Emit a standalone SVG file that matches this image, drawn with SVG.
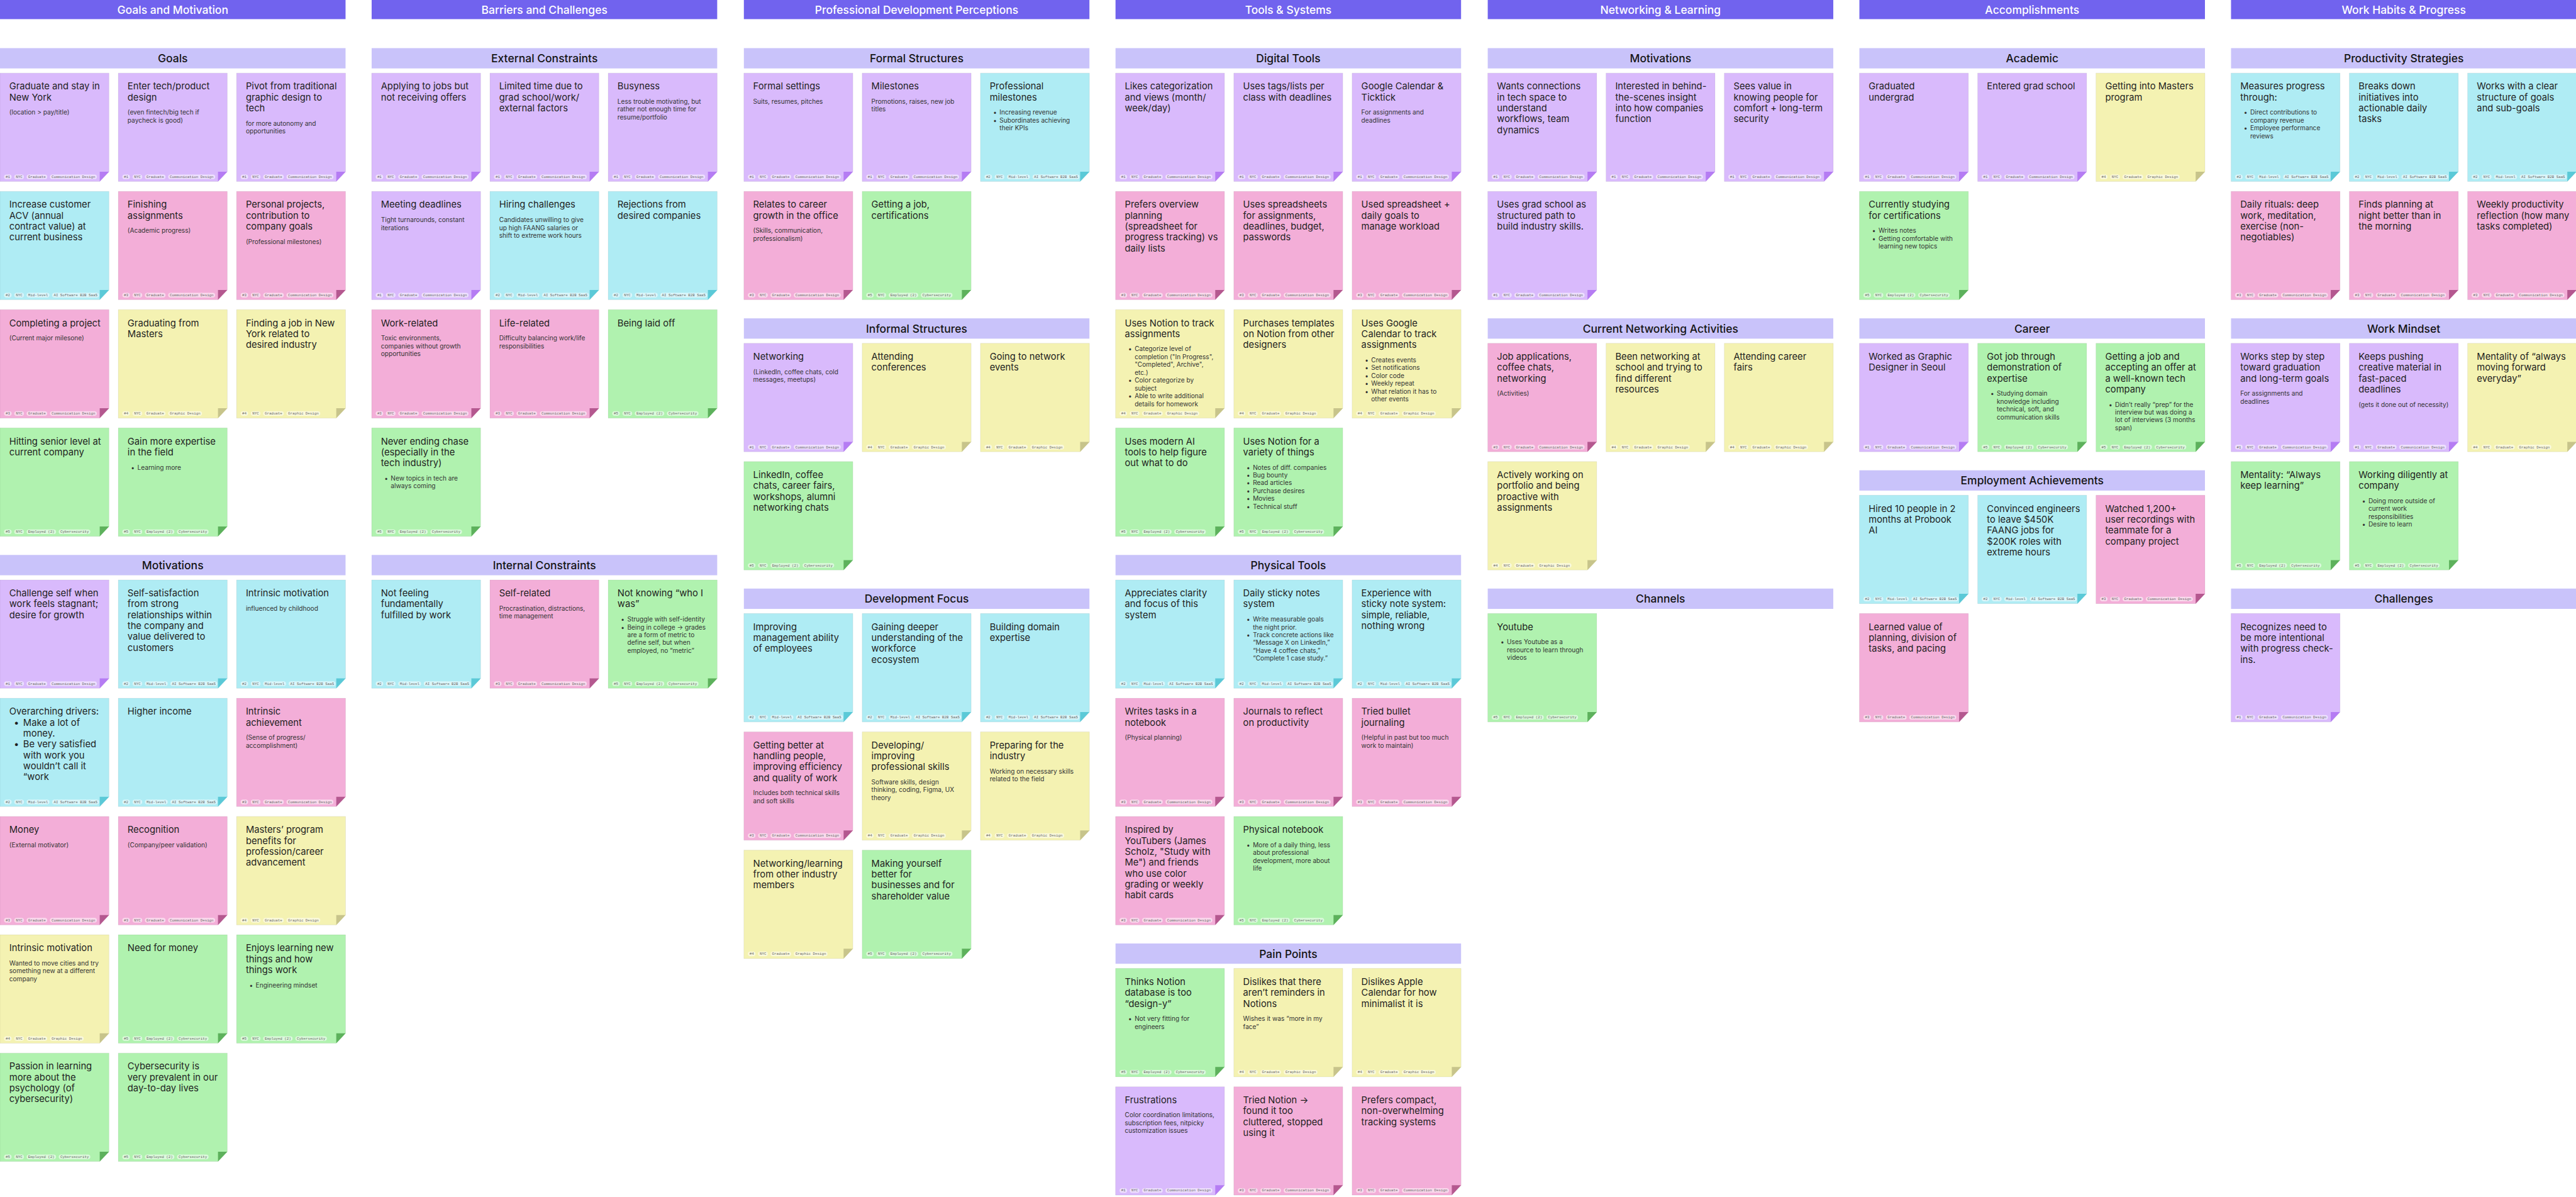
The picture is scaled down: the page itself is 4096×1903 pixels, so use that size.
<svg xmlns="http://www.w3.org/2000/svg" xmlns:xlink="http://www.w3.org/1999/xlink" width="4096" height="1903" viewBox="0 0 4096 1903">
<style>
.hb{fill:#7163EE}
.ht{font:500 19px Inter,'Liberation Sans',sans-serif;fill:#fff;text-anchor:middle}
.sb{fill:#C9C3FA}
.st{font:500 19px Inter,'Liberation Sans',sans-serif;fill:#151515;text-anchor:middle}
.b{stroke:#000;stroke-opacity:.07;stroke-width:1}
.t{font:16px Inter,'Liberation Sans',sans-serif;fill:#1e1e1e}
.s{font:11px Inter,'Liberation Sans',sans-serif;fill:#333}
.pl{fill:#fff;fill-opacity:.55}
.tg{font:6.3px 'Liberation Mono',monospace;fill:#666;text-anchor:middle}
.p1 .b{fill:#D9BAFC}.p1 .f{fill:#B57CF3}
.p2 .b{fill:#AFECF4}.p2 .f{fill:#5BC9D7}
.p3 .b{fill:#F3AED8}.p3 .f{fill:#B4588F}
.p4 .b{fill:#F4F2B2}.p4 .f{fill:#C7C48B}
.p5 .b{fill:#B0F2AF}.p5 .f{fill:#5DB15C}
</style>
<defs>
<path id="body" d="M0 0H188V170L172 187H0Z"/>
<path id="fold" d="M172 170H188L172 187Z"/>
<g id="tg1"><rect class="pl" x="7" y="175" width="13" height="8" rx="4"/><text class="tg" x="13.5" y="181">#1</text><rect class="pl" x="24.6" y="175" width="16.7" height="8" rx="4"/><text class="tg" x="33" y="181">NYC</text><rect class="pl" x="45.9" y="175" width="35.6" height="8" rx="4"/><text class="tg" x="63.7" y="181">Graduate</text><rect class="pl" x="86.1" y="175" width="81" height="8" rx="4"/><text class="tg" x="126.6" y="181">Communication Design</text></g>
<g id="tg2"><rect class="pl" x="7" y="175" width="13" height="8" rx="4"/><text class="tg" x="13.5" y="181">#2</text><rect class="pl" x="24.6" y="175" width="16.7" height="8" rx="4"/><text class="tg" x="33" y="181">NYC</text><rect class="pl" x="45.9" y="175" width="39.4" height="8" rx="4"/><text class="tg" x="65.6" y="181">Mid-level</text><rect class="pl" x="89.9" y="175" width="81" height="8" rx="4"/><text class="tg" x="130.4" y="181">AI Software B2B SaaS</text></g>
<g id="tg3"><rect class="pl" x="7" y="175" width="13" height="8" rx="4"/><text class="tg" x="13.5" y="181">#3</text><rect class="pl" x="24.6" y="175" width="16.7" height="8" rx="4"/><text class="tg" x="33" y="181">NYC</text><rect class="pl" x="45.9" y="175" width="35.6" height="8" rx="4"/><text class="tg" x="63.7" y="181">Graduate</text><rect class="pl" x="86.1" y="175" width="81" height="8" rx="4"/><text class="tg" x="126.6" y="181">Communication Design</text></g>
<g id="tg4"><rect class="pl" x="7" y="175" width="13" height="8" rx="4"/><text class="tg" x="13.5" y="181">#4</text><rect class="pl" x="24.6" y="175" width="16.7" height="8" rx="4"/><text class="tg" x="33" y="181">NYC</text><rect class="pl" x="45.9" y="175" width="35.6" height="8" rx="4"/><text class="tg" x="63.7" y="181">Graduate</text><rect class="pl" x="86.1" y="175" width="58.3" height="8" rx="4"/><text class="tg" x="115.25" y="181">Graphic Design</text></g>
<g id="tg5"><rect class="pl" x="7" y="175" width="13" height="8" rx="4"/><text class="tg" x="13.5" y="181">#5</text><rect class="pl" x="24.6" y="175" width="16.7" height="8" rx="4"/><text class="tg" x="33" y="181">NYC</text><rect class="pl" x="45.9" y="175" width="50.8" height="8" rx="4"/><text class="tg" x="71.3" y="181">Employed (2)</text><rect class="pl" x="101.3" y="175" width="54.5" height="8" rx="4"/><text class="tg" x="128.55" y="181">Cybersecurity</text></g>
</defs>
<rect width="4096" height="1903" fill="#fff"/>
<g transform="scale(0.9219)">
<g id="headers">
<rect class="hb" x="0" y="0" width="596" height="33"/><text class="ht" x="298" y="24">Goals and Motivation</text>
<rect class="hb" x="641" y="0" width="596" height="33"/><text class="ht" x="939" y="24">Barriers and Challenges</text>
<rect class="hb" x="1283" y="0" width="596" height="33"/><text class="ht" x="1581" y="24">Professional Development Perceptions</text>
<rect class="hb" x="1924" y="0" width="596" height="33"/><text class="ht" x="2222" y="24">Tools &amp; Systems</text>
<rect class="hb" x="2566" y="0" width="596" height="33"/><text class="ht" x="2864" y="24">Networking &amp; Learning</text>
<rect class="hb" x="3207" y="0" width="596" height="33"/><text class="ht" x="3505" y="24">Accomplishments</text>
<rect class="hb" x="3848" y="0" width="596" height="33"/><text class="ht" x="4146" y="24">Work Habits &amp; Progress</text>
</g>
<g id="sections">
<rect class="sb" x="0" y="83" width="596" height="35"/><text class="st" x="298" y="107.5">Goals</text>
<rect class="sb" x="0" y="957" width="596" height="35"/><text class="st" x="298" y="981.5">Motivations</text>
<rect class="sb" x="641" y="83" width="596" height="35"/><text class="st" x="939" y="107.5">External Constraints</text>
<rect class="sb" x="641" y="957" width="596" height="35"/><text class="st" x="939" y="981.5">Internal Constraints</text>
<rect class="sb" x="1283" y="83" width="596" height="35"/><text class="st" x="1581" y="107.5">Formal Structures</text>
<rect class="sb" x="1283" y="549" width="596" height="35"/><text class="st" x="1581" y="573.5">Informal Structures</text>
<rect class="sb" x="1283" y="1015" width="596" height="35"/><text class="st" x="1581" y="1039.5">Development Focus</text>
<rect class="sb" x="1924" y="83" width="596" height="35"/><text class="st" x="2222" y="107.5">Digital Tools</text>
<rect class="sb" x="1924" y="957" width="596" height="35"/><text class="st" x="2222" y="981.5">Physical Tools</text>
<rect class="sb" x="1924" y="1627" width="596" height="35"/><text class="st" x="2222" y="1651.5">Pain Points</text>
<rect class="sb" x="2566" y="83" width="596" height="35"/><text class="st" x="2864" y="107.5">Motivations</text>
<rect class="sb" x="2566" y="549" width="596" height="35"/><text class="st" x="2864" y="573.5">Current Networking Activities</text>
<rect class="sb" x="2566" y="1015" width="596" height="35"/><text class="st" x="2864" y="1039.5">Channels</text>
<rect class="sb" x="3207" y="83" width="596" height="35"/><text class="st" x="3505" y="107.5">Academic</text>
<rect class="sb" x="3207" y="549" width="596" height="35"/><text class="st" x="3505" y="573.5">Career</text>
<rect class="sb" x="3207" y="811" width="596" height="35"/><text class="st" x="3505" y="835.5">Employment Achievements</text>
<rect class="sb" x="3848" y="83" width="596" height="35"/><text class="st" x="4146" y="107.5">Productivity Strategies</text>
<rect class="sb" x="3848" y="549" width="596" height="35"/><text class="st" x="4146" y="573.5">Work Mindset</text>
<rect class="sb" x="3848" y="1015" width="596" height="35"/><text class="st" x="4146" y="1039.5">Challenges</text>
</g>
<g id="connectors"/>

<!-- Column 1 -->
<g id="goals-1" class="p1" transform="translate(0 126)"><use href="#body" class="b"/><use href="#fold" class="f"/><use href="#tg1"/><text class="t" x="16" y="28.5">Graduate and stay in<tspan x="16" dy="18.8">New York</tspan></text><text class="s" x="16" y="71.8">(location &gt; pay/title)</text></g>
<g id="goals-2" class="p1" transform="translate(204 126)"><use href="#body" class="b"/><use href="#fold" class="f"/><use href="#tg1"/><text class="t" x="16" y="28.5">Enter tech/product<tspan x="16" dy="18.8">design</tspan></text><text class="s" x="16" y="71.8">(even fintech/big tech if<tspan x="16" dy="13.5">paycheck is good)</tspan></text></g>
<g id="goals-3" class="p1" transform="translate(408 126)"><use href="#body" class="b"/><use href="#fold" class="f"/><use href="#tg1"/><text class="t" x="16" y="28.5">Pivot from traditional<tspan x="16" dy="18.8">graphic design to</tspan><tspan x="16" dy="18.8">tech</tspan></text><text class="s" x="16" y="90.6">for more autonomy and<tspan x="16" dy="13.5">opportunities</tspan></text></g>
<g id="goals-4" class="p2" transform="translate(0 330)"><use href="#body" class="b"/><use href="#fold" class="f"/><use href="#tg2"/><text class="t" x="16" y="28.5">Increase customer<tspan x="16" dy="18.8">ACV (annual</tspan><tspan x="16" dy="18.8">contract value) at</tspan><tspan x="16" dy="18.8">current business</tspan></text></g>
<g id="goals-5" class="p3" transform="translate(204 330)"><use href="#body" class="b"/><use href="#fold" class="f"/><use href="#tg3"/><text class="t" x="16" y="28.5">Finishing<tspan x="16" dy="18.8">assignments</tspan></text><text class="s" x="16" y="71.8">(Academic progress)</text></g>
<g id="goals-6" class="p3" transform="translate(408 330)"><use href="#body" class="b"/><use href="#fold" class="f"/><use href="#tg3"/><text class="t" x="16" y="28.5">Personal projects,<tspan x="16" dy="18.8">contribution to</tspan><tspan x="16" dy="18.8">company goals</tspan></text><text class="s" x="16" y="90.6">(Professional milestones)</text></g>
<g id="goals-7" class="p3" transform="translate(0 534)"><use href="#body" class="b"/><use href="#fold" class="f"/><use href="#tg3"/><text class="t" x="16" y="28.5">Completing a project</text><text class="s" x="16" y="53">(Current major milesone)</text></g>
<g id="goals-8" class="p4" transform="translate(204 534)"><use href="#body" class="b"/><use href="#fold" class="f"/><use href="#tg4"/><text class="t" x="16" y="28.5">Graduating from<tspan x="16" dy="18.8">Masters</tspan></text></g>
<g id="goals-9" class="p4" transform="translate(408 534)"><use href="#body" class="b"/><use href="#fold" class="f"/><use href="#tg4"/><text class="t" x="16" y="28.5">Finding a job in New<tspan x="16" dy="18.8">York related to</tspan><tspan x="16" dy="18.8">desired industry</tspan></text></g>
<g id="goals-10" class="p5" transform="translate(0 738)"><use href="#body" class="b"/><use href="#fold" class="f"/><use href="#tg5"/><text class="t" x="16" y="28.5">Hitting senior level at<tspan x="16" dy="18.8">current company</tspan></text></g>
<g id="goals-11" class="p5" transform="translate(204 738)"><use href="#body" class="b"/><use href="#fold" class="f"/><use href="#tg5"/><text class="t" x="16" y="28.5">Gain more expertise<tspan x="16" dy="18.8">in the field</tspan></text><text class="s" y="71.8"><tspan x="22">•</tspan><tspan x="33">Learning more</tspan></text></g>

<g id="mot-1" class="p1" transform="translate(0 1000)"><use href="#body" class="b"/><use href="#fold" class="f"/><use href="#tg1"/><text class="t" x="16" y="28.5">Challenge self when<tspan x="16" dy="18.8">work feels stagnant;</tspan><tspan x="16" dy="18.8">desire for growth</tspan></text></g>
<g id="mot-2" class="p2" transform="translate(204 1000)"><use href="#body" class="b"/><use href="#fold" class="f"/><use href="#tg2"/><text class="t" x="16" y="28.5">Self-satisfaction<tspan x="16" dy="18.8">from strong</tspan><tspan x="16" dy="18.8">relationships within</tspan><tspan x="16" dy="18.8">the company and</tspan><tspan x="16" dy="18.8">value delivered to</tspan><tspan x="16" dy="18.8">customers</tspan></text></g>
<g id="mot-3" class="p2" transform="translate(408 1000)"><use href="#body" class="b"/><use href="#fold" class="f"/><use href="#tg2"/><text class="t" x="16" y="28.5">Intrinsic motivation</text><text class="s" x="16" y="53">influenced by childhood</text></g>
<g id="mot-4" class="p2" transform="translate(0 1204)"><use href="#body" class="b"/><use href="#fold" class="f"/><use href="#tg2"/><text class="t" x="16" y="28.5">Overarching drivers:<tspan x="24" dy="18.8">•</tspan><tspan x="40">Make a lot of</tspan><tspan x="40" dy="18.8">money.</tspan><tspan x="24" dy="18.8">•</tspan><tspan x="40">Be very satisfied</tspan><tspan x="40" dy="18.8">with work you</tspan><tspan x="40" dy="18.8">wouldn’t call it</tspan><tspan x="40" dy="18.8">“work</tspan></text></g>
<g id="mot-5" class="p2" transform="translate(204 1204)"><use href="#body" class="b"/><use href="#fold" class="f"/><use href="#tg2"/><text class="t" x="16" y="28.5">Higher income</text></g>
<g id="mot-6" class="p3" transform="translate(408 1204)"><use href="#body" class="b"/><use href="#fold" class="f"/><use href="#tg3"/><text class="t" x="16" y="28.5">Intrinsic<tspan x="16" dy="18.8">achievement</tspan></text><text class="s" x="16" y="71.8">(Sense of progress/<tspan x="16" dy="13.5">accomplishment)</tspan></text></g>
<g id="mot-7" class="p3" transform="translate(0 1408)"><use href="#body" class="b"/><use href="#fold" class="f"/><use href="#tg3"/><text class="t" x="16" y="28.5">Money</text><text class="s" x="16" y="53">(External motivator)</text></g>
<g id="mot-8" class="p3" transform="translate(204 1408)"><use href="#body" class="b"/><use href="#fold" class="f"/><use href="#tg3"/><text class="t" x="16" y="28.5">Recognition</text><text class="s" x="16" y="53">(Company/peer validation)</text></g>
<g id="mot-9" class="p4" transform="translate(408 1408)"><use href="#body" class="b"/><use href="#fold" class="f"/><use href="#tg4"/><text class="t" x="16" y="28.5">Masters’ program<tspan x="16" dy="18.8">benefits for</tspan><tspan x="16" dy="18.8">profession/career</tspan><tspan x="16" dy="18.8">advancement</tspan></text></g>
<g id="mot-10" class="p4" transform="translate(0 1612)"><use href="#body" class="b"/><use href="#fold" class="f"/><use href="#tg4"/><text class="t" x="16" y="28.5">Intrinsic motivation</text><text class="s" x="16" y="53">Wanted to move cities and try<tspan x="16" dy="13.5">something new at a different</tspan><tspan x="16" dy="13.5">company</tspan></text></g>
<g id="mot-11" class="p5" transform="translate(204 1612)"><use href="#body" class="b"/><use href="#fold" class="f"/><use href="#tg5"/><text class="t" x="16" y="28.5">Need for money</text></g>
<g id="mot-12" class="p5" transform="translate(408 1612)"><use href="#body" class="b"/><use href="#fold" class="f"/><use href="#tg5"/><text class="t" x="16" y="28.5">Enjoys learning new<tspan x="16" dy="18.8">things and how</tspan><tspan x="16" dy="18.8">things work</tspan></text><text class="s" y="90.6"><tspan x="22">•</tspan><tspan x="33">Engineering mindset</tspan></text></g>
<g id="mot-13" class="p5" transform="translate(0 1816)"><use href="#body" class="b"/><use href="#fold" class="f"/><use href="#tg5"/><text class="t" x="16" y="28.5">Passion in learning<tspan x="16" dy="18.8">more about the</tspan><tspan x="16" dy="18.8">psychology (of</tspan><tspan x="16" dy="18.8">cybersecurity)</tspan></text></g>
<g id="mot-14" class="p5" transform="translate(204 1816)"><use href="#body" class="b"/><use href="#fold" class="f"/><use href="#tg5"/><text class="t" x="16" y="28.5">Cybersecurity is<tspan x="16" dy="18.8">very prevalent in our</tspan><tspan x="16" dy="18.8">day-to-day lives</tspan></text></g>

<!-- Column 2 -->
<g id="ext-1" class="p1" transform="translate(641 126)"><use href="#body" class="b"/><use href="#fold" class="f"/><use href="#tg1"/><text class="t" x="16" y="28.5">Applying to jobs but<tspan x="16" dy="18.8">not receiving offers</tspan></text></g>
<g id="ext-2" class="p1" transform="translate(845 126)"><use href="#body" class="b"/><use href="#fold" class="f"/><use href="#tg1"/><text class="t" x="16" y="28.5">Limited time due to<tspan x="16" dy="18.8">grad school/work/</tspan><tspan x="16" dy="18.8">external factors</tspan></text></g>
<g id="ext-3" class="p1" transform="translate(1049 126)"><use href="#body" class="b"/><use href="#fold" class="f"/><use href="#tg1"/><text class="t" x="16" y="28.5">Busyness</text><text class="s" x="16" y="53">Less trouble motivating, but<tspan x="16" dy="13.5">rather not enough time for</tspan><tspan x="16" dy="13.5">resume/portfolio</tspan></text></g>
<g id="ext-4" class="p1" transform="translate(641 330)"><use href="#body" class="b"/><use href="#fold" class="f"/><use href="#tg1"/><text class="t" x="16" y="28.5">Meeting deadlines</text><text class="s" x="16" y="53">Tight turnarounds, constant<tspan x="16" dy="13.5">iterations</tspan></text></g>
<g id="ext-5" class="p2" transform="translate(845 330)"><use href="#body" class="b"/><use href="#fold" class="f"/><use href="#tg2"/><text class="t" x="16" y="28.5">Hiring challenges</text><text class="s" x="16" y="53">Candidates unwilling to give<tspan x="16" dy="13.5">up high FAANG salaries or</tspan><tspan x="16" dy="13.5">shift to extreme work hours</tspan></text></g>
<g id="ext-6" class="p2" transform="translate(1049 330)"><use href="#body" class="b"/><use href="#fold" class="f"/><use href="#tg2"/><text class="t" x="16" y="28.5">Rejections from<tspan x="16" dy="18.8">desired companies</tspan></text></g>
<g id="ext-7" class="p3" transform="translate(641 534)"><use href="#body" class="b"/><use href="#fold" class="f"/><use href="#tg3"/><text class="t" x="16" y="28.5">Work-related</text><text class="s" x="16" y="53">Toxic environments,<tspan x="16" dy="13.5">companies without growth</tspan><tspan x="16" dy="13.5">opportunities</tspan></text></g>
<g id="ext-8" class="p3" transform="translate(845 534)"><use href="#body" class="b"/><use href="#fold" class="f"/><use href="#tg3"/><text class="t" x="16" y="28.5">Life-related</text><text class="s" x="16" y="53">Difficulty balancing work/life<tspan x="16" dy="13.5">responsibilities</tspan></text></g>
<g id="ext-9" class="p5" transform="translate(1049 534)"><use href="#body" class="b"/><use href="#fold" class="f"/><use href="#tg5"/><text class="t" x="16" y="28.5">Being laid off</text></g>
<g id="ext-10" class="p5" transform="translate(641 738)"><use href="#body" class="b"/><use href="#fold" class="f"/><use href="#tg5"/><text class="t" x="16" y="28.5">Never ending chase<tspan x="16" dy="18.8">(especially in the</tspan><tspan x="16" dy="18.8">tech industry)</tspan></text><text class="s" y="90.6"><tspan x="22">•</tspan><tspan x="33">New topics in tech are</tspan><tspan x="33" dy="13.5">always coming</tspan></text></g>

<g id="int-1" class="p2" transform="translate(641 1000)"><use href="#body" class="b"/><use href="#fold" class="f"/><use href="#tg2"/><text class="t" x="16" y="28.5">Not feeling<tspan x="16" dy="18.8">fundamentally</tspan><tspan x="16" dy="18.8">fulfilled by work</tspan></text></g>
<g id="int-2" class="p3" transform="translate(845 1000)"><use href="#body" class="b"/><use href="#fold" class="f"/><use href="#tg3"/><text class="t" x="16" y="28.5">Self-related</text><text class="s" x="16" y="53">Procrastination, distractions,<tspan x="16" dy="13.5">time management</tspan></text></g>
<g id="int-3" class="p5" transform="translate(1049 1000)"><use href="#body" class="b"/><use href="#fold" class="f"/><use href="#tg5"/><text class="t" x="16" y="28.5">Not knowing “who I<tspan x="16" dy="18.8">was”</tspan></text><text class="s" y="71.8"><tspan x="22">•</tspan><tspan x="33">Struggle with self-identity</tspan><tspan x="22" dy="13.5">•</tspan><tspan x="33">Being in college → grades</tspan><tspan x="33" dy="13.5">are a form of metric to</tspan><tspan x="33" dy="13.5">define self, but when</tspan><tspan x="33" dy="13.5">employed, no “metric”</tspan></text></g>

<!-- Column 3 -->
<g id="for-1" class="p1" transform="translate(1283 126)"><use href="#body" class="b"/><use href="#fold" class="f"/><use href="#tg1"/><text class="t" x="16" y="28.5">Formal settings</text><text class="s" x="16" y="53">Suits, resumes, pitches</text></g>
<g id="for-2" class="p1" transform="translate(1487 126)"><use href="#body" class="b"/><use href="#fold" class="f"/><use href="#tg1"/><text class="t" x="16" y="28.5">Milestones</text><text class="s" x="16" y="53">Promotions, raises, new job<tspan x="16" dy="13.5">titles</tspan></text></g>
<g id="for-3" class="p2" transform="translate(1691 126)"><use href="#body" class="b"/><use href="#fold" class="f"/><use href="#tg2"/><text class="t" x="16" y="28.5">Professional<tspan x="16" dy="18.8">milestones</tspan></text><text class="s" y="71.8"><tspan x="22">•</tspan><tspan x="33">Increasing revenue</tspan><tspan x="22" dy="13.5">•</tspan><tspan x="33">Subordinates achieving</tspan><tspan x="33" dy="13.5">their KPIs</tspan></text></g>
<g id="for-4" class="p3" transform="translate(1283 330)"><use href="#body" class="b"/><use href="#fold" class="f"/><use href="#tg3"/><text class="t" x="16" y="28.5">Relates to career<tspan x="16" dy="18.8">growth in the office</tspan></text><text class="s" x="16" y="71.8">(Skills, communication,<tspan x="16" dy="13.5">professionalism)</tspan></text></g>
<g id="for-5" class="p5" transform="translate(1487 330)"><use href="#body" class="b"/><use href="#fold" class="f"/><use href="#tg5"/><text class="t" x="16" y="28.5">Getting a job,<tspan x="16" dy="18.8">certifications</tspan></text></g>

<g id="inf-1" class="p1" transform="translate(1283 592)"><use href="#body" class="b"/><use href="#fold" class="f"/><use href="#tg1"/><text class="t" x="16" y="28.5">Networking</text><text class="s" x="16" y="53">(LinkedIn, coffee chats, cold<tspan x="16" dy="13.5">messages, meetups)</tspan></text></g>
<g id="inf-2" class="p4" transform="translate(1487 592)"><use href="#body" class="b"/><use href="#fold" class="f"/><use href="#tg4"/><text class="t" x="16" y="28.5">Attending<tspan x="16" dy="18.8">conferences</tspan></text></g>
<g id="inf-3" class="p4" transform="translate(1691 592)"><use href="#body" class="b"/><use href="#fold" class="f"/><use href="#tg4"/><text class="t" x="16" y="28.5">Going to network<tspan x="16" dy="18.8">events</tspan></text></g>
<g id="inf-4" class="p5" transform="translate(1283 796)"><use href="#body" class="b"/><use href="#fold" class="f"/><use href="#tg5"/><text class="t" x="16" y="28.5">LinkedIn, coffee<tspan x="16" dy="18.8">chats, career fairs,</tspan><tspan x="16" dy="18.8">workshops, alumni</tspan><tspan x="16" dy="18.8">networking chats</tspan></text></g>

<g id="dev-1" class="p2" transform="translate(1283 1058)"><use href="#body" class="b"/><use href="#fold" class="f"/><use href="#tg2"/><text class="t" x="16" y="28.5">Improving<tspan x="16" dy="18.8">management ability</tspan><tspan x="16" dy="18.8">of employees</tspan></text></g>
<g id="dev-2" class="p2" transform="translate(1487 1058)"><use href="#body" class="b"/><use href="#fold" class="f"/><use href="#tg2"/><text class="t" x="16" y="28.5">Gaining deeper<tspan x="16" dy="18.8">understanding of the</tspan><tspan x="16" dy="18.8">workforce</tspan><tspan x="16" dy="18.8">ecosystem</tspan></text></g>
<g id="dev-3" class="p2" transform="translate(1691 1058)"><use href="#body" class="b"/><use href="#fold" class="f"/><use href="#tg2"/><text class="t" x="16" y="28.5">Building domain<tspan x="16" dy="18.8">expertise</tspan></text></g>
<g id="dev-4" class="p3" transform="translate(1283 1262)"><use href="#body" class="b"/><use href="#fold" class="f"/><use href="#tg3"/><text class="t" x="16" y="28.5">Getting better at<tspan x="16" dy="18.8">handling people,</tspan><tspan x="16" dy="18.8">improving efficiency</tspan><tspan x="16" dy="18.8">and quality of work</tspan></text><text class="s" x="16" y="109.4">Includes both technical skills<tspan x="16" dy="13.5">and soft skills</tspan></text></g>
<g id="dev-5" class="p4" transform="translate(1487 1262)"><use href="#body" class="b"/><use href="#fold" class="f"/><use href="#tg4"/><text class="t" x="16" y="28.5">Developing/<tspan x="16" dy="18.8">improving</tspan><tspan x="16" dy="18.8">professional skills</tspan></text><text class="s" x="16" y="90.6">Software skills, design<tspan x="16" dy="13.5">thinking, coding, Figma, UX</tspan><tspan x="16" dy="13.5">theory</tspan></text></g>
<g id="dev-6" class="p4" transform="translate(1691 1262)"><use href="#body" class="b"/><use href="#fold" class="f"/><use href="#tg4"/><text class="t" x="16" y="28.5">Preparing for the<tspan x="16" dy="18.8">industry</tspan></text><text class="s" x="16" y="71.8">Working on necessary skills<tspan x="16" dy="13.5">related to the field</tspan></text></g>
<g id="dev-7" class="p4" transform="translate(1283 1466)"><use href="#body" class="b"/><use href="#fold" class="f"/><use href="#tg4"/><text class="t" x="16" y="28.5">Networking/learning<tspan x="16" dy="18.8">from other industry</tspan><tspan x="16" dy="18.8">members</tspan></text></g>
<g id="dev-8" class="p5" transform="translate(1487 1466)"><use href="#body" class="b"/><use href="#fold" class="f"/><use href="#tg5"/><text class="t" x="16" y="28.5">Making yourself<tspan x="16" dy="18.8">better for</tspan><tspan x="16" dy="18.8">businesses and for</tspan><tspan x="16" dy="18.8">shareholder value</tspan></text></g>

<!-- Column 4 -->
<g id="dig-1" class="p1" transform="translate(1924 126)"><use href="#body" class="b"/><use href="#fold" class="f"/><use href="#tg1"/><text class="t" x="16" y="28.5">Likes categorization<tspan x="16" dy="18.8">and views (month/</tspan><tspan x="16" dy="18.8">week/day)</tspan></text></g>
<g id="dig-2" class="p1" transform="translate(2128 126)"><use href="#body" class="b"/><use href="#fold" class="f"/><use href="#tg1"/><text class="t" x="16" y="28.5">Uses tags/lists per<tspan x="16" dy="18.8">class with deadlines</tspan></text></g>
<g id="dig-3" class="p1" transform="translate(2332 126)"><use href="#body" class="b"/><use href="#fold" class="f"/><use href="#tg1"/><text class="t" x="16" y="28.5">Google Calendar &amp;<tspan x="16" dy="18.8">Ticktick</tspan></text><text class="s" x="16" y="71.8">For assignments and<tspan x="16" dy="13.5">deadlines</tspan></text></g>
<g id="dig-4" class="p3" transform="translate(1924 330)"><use href="#body" class="b"/><use href="#fold" class="f"/><use href="#tg3"/><text class="t" x="16" y="28.5">Prefers overview<tspan x="16" dy="18.8">planning</tspan><tspan x="16" dy="18.8">(spreadsheet for</tspan><tspan x="16" dy="18.8">progress tracking) vs</tspan><tspan x="16" dy="18.8">daily lists</tspan></text></g>
<g id="dig-5" class="p3" transform="translate(2128 330)"><use href="#body" class="b"/><use href="#fold" class="f"/><use href="#tg3"/><text class="t" x="16" y="28.5">Uses spreadsheets<tspan x="16" dy="18.8">for assignments,</tspan><tspan x="16" dy="18.8">deadlines, budget,</tspan><tspan x="16" dy="18.8">passwords</tspan></text></g>
<g id="dig-6" class="p3" transform="translate(2332 330)"><use href="#body" class="b"/><use href="#fold" class="f"/><use href="#tg3"/><text class="t" x="16" y="28.5">Used spreadsheet +<tspan x="16" dy="18.8">daily goals to</tspan><tspan x="16" dy="18.8">manage workload</tspan></text></g>
<g id="dig-7" class="p4" transform="translate(1924 534)"><use href="#body" class="b"/><use href="#fold" class="f"/><use href="#tg4"/><text class="t" x="16" y="28.5">Uses Notion to track<tspan x="16" dy="18.8">assignments</tspan></text><text class="s" y="71.8"><tspan x="22">•</tspan><tspan x="33">Categorize level of</tspan><tspan x="33" dy="13.5">completion ("In Progress",</tspan><tspan x="33" dy="13.5">"Completed", Archive",</tspan><tspan x="33" dy="13.5">etc.)</tspan><tspan x="22" dy="13.5">•</tspan><tspan x="33">Color categorize by</tspan><tspan x="33" dy="13.5">subject</tspan><tspan x="22" dy="13.5">•</tspan><tspan x="33">Able to write additional</tspan><tspan x="33" dy="13.5">details for homework</tspan></text></g>
<g id="dig-8" class="p4" transform="translate(2128 534)"><use href="#body" class="b"/><use href="#fold" class="f"/><use href="#tg4"/><text class="t" x="16" y="28.5">Purchases templates<tspan x="16" dy="18.8">on Notion from other</tspan><tspan x="16" dy="18.8">designers</tspan></text></g>
<g id="dig-9" class="p4" transform="translate(2332 534)"><use href="#body" class="b"/><use href="#fold" class="f"/><use href="#tg4"/><text class="t" x="16" y="28.5">Uses Google<tspan x="16" dy="18.8">Calendar to track</tspan><tspan x="16" dy="18.8">assignments</tspan></text><text class="s" y="90.6"><tspan x="22">•</tspan><tspan x="33">Creates events</tspan><tspan x="22" dy="13.5">•</tspan><tspan x="33">Set notifications</tspan><tspan x="22" dy="13.5">•</tspan><tspan x="33">Color code</tspan><tspan x="22" dy="13.5">•</tspan><tspan x="33">Weekly repeat</tspan><tspan x="22" dy="13.5">•</tspan><tspan x="33">What relation it has to</tspan><tspan x="33" dy="13.5">other events</tspan></text></g>
<g id="dig-10" class="p5" transform="translate(1924 738)"><use href="#body" class="b"/><use href="#fold" class="f"/><use href="#tg5"/><text class="t" x="16" y="28.5">Uses modern AI<tspan x="16" dy="18.8">tools to help figure</tspan><tspan x="16" dy="18.8">out what to do</tspan></text></g>
<g id="dig-11" class="p5" transform="translate(2128 738)"><use href="#body" class="b"/><use href="#fold" class="f"/><use href="#tg5"/><text class="t" x="16" y="28.5">Uses Notion for a<tspan x="16" dy="18.8">variety of things</tspan></text><text class="s" y="71.8"><tspan x="22">•</tspan><tspan x="33">Notes of diff. companies</tspan><tspan x="22" dy="13.5">•</tspan><tspan x="33">Bug bounty</tspan><tspan x="22" dy="13.5">•</tspan><tspan x="33">Read articles</tspan><tspan x="22" dy="13.5">•</tspan><tspan x="33">Purchase desires</tspan><tspan x="22" dy="13.5">•</tspan><tspan x="33">Movies</tspan><tspan x="22" dy="13.5">•</tspan><tspan x="33">Technical stuff</tspan></text></g>

<g id="phy-1" class="p2" transform="translate(1924 1000)"><use href="#body" class="b"/><use href="#fold" class="f"/><use href="#tg2"/><text class="t" x="16" y="28.5">Appreciates clarity<tspan x="16" dy="18.8">and focus of this</tspan><tspan x="16" dy="18.8">system</tspan></text></g>
<g id="phy-2" class="p2" transform="translate(2128 1000)"><use href="#body" class="b"/><use href="#fold" class="f"/><use href="#tg2"/><text class="t" x="16" y="28.5">Daily sticky notes<tspan x="16" dy="18.8">system</tspan></text><text class="s" y="71.8"><tspan x="22">•</tspan><tspan x="33">Write measurable goals</tspan><tspan x="33" dy="13.5">the night prior.</tspan><tspan x="22" dy="13.5">•</tspan><tspan x="33">Track concrete actions like</tspan><tspan x="33" dy="13.5">“Message X on LinkedIn,”</tspan><tspan x="33" dy="13.5">“Have 4 coffee chats,”</tspan><tspan x="33" dy="13.5">“Complete 1 case study.”</tspan></text></g>
<g id="phy-3" class="p2" transform="translate(2332 1000)"><use href="#body" class="b"/><use href="#fold" class="f"/><use href="#tg2"/><text class="t" x="16" y="28.5">Experience with<tspan x="16" dy="18.8">sticky note system:</tspan><tspan x="16" dy="18.8">simple, reliable,</tspan><tspan x="16" dy="18.8">nothing wrong</tspan></text></g>
<g id="phy-4" class="p3" transform="translate(1924 1204)"><use href="#body" class="b"/><use href="#fold" class="f"/><use href="#tg3"/><text class="t" x="16" y="28.5">Writes tasks in a<tspan x="16" dy="18.8">notebook</tspan></text><text class="s" x="16" y="71.8">(Physical planning)</text></g>
<g id="phy-5" class="p3" transform="translate(2128 1204)"><use href="#body" class="b"/><use href="#fold" class="f"/><use href="#tg3"/><text class="t" x="16" y="28.5">Journals to reflect<tspan x="16" dy="18.8">on productivity</tspan></text></g>
<g id="phy-6" class="p3" transform="translate(2332 1204)"><use href="#body" class="b"/><use href="#fold" class="f"/><use href="#tg3"/><text class="t" x="16" y="28.5">Tried bullet<tspan x="16" dy="18.8">journaling</tspan></text><text class="s" x="16" y="71.8">(Helpful in past but too much<tspan x="16" dy="13.5">work to maintain)</tspan></text></g>
<g id="phy-7" class="p3" transform="translate(1924 1408)"><use href="#body" class="b"/><use href="#fold" class="f"/><use href="#tg3"/><text class="t" x="16" y="28.5">Inspired by<tspan x="16" dy="18.8">YouTubers (James</tspan><tspan x="16" dy="18.8">Scholz, "Study with</tspan><tspan x="16" dy="18.8">Me") and friends</tspan><tspan x="16" dy="18.8">who use color</tspan><tspan x="16" dy="18.8">grading or weekly</tspan><tspan x="16" dy="18.8">habit cards</tspan></text></g>
<g id="phy-8" class="p5" transform="translate(2128 1408)"><use href="#body" class="b"/><use href="#fold" class="f"/><use href="#tg5"/><text class="t" x="16" y="28.5">Physical notebook</text><text class="s" y="53"><tspan x="22">•</tspan><tspan x="33">More of a daily thing, less</tspan><tspan x="33" dy="13.5">about professional</tspan><tspan x="33" dy="13.5">development, more about</tspan><tspan x="33" dy="13.5">life</tspan></text></g>

<g id="pain-1" class="p5" transform="translate(1924 1670)"><use href="#body" class="b"/><use href="#fold" class="f"/><use href="#tg5"/><text class="t" x="16" y="28.5">Thinks Notion<tspan x="16" dy="18.8">database is too</tspan><tspan x="16" dy="18.8">“design-y”</tspan></text><text class="s" y="90.6"><tspan x="22">•</tspan><tspan x="33">Not very fitting for</tspan><tspan x="33" dy="13.5">engineers</tspan></text></g>
<g id="pain-2" class="p4" transform="translate(2128 1670)"><use href="#body" class="b"/><use href="#fold" class="f"/><use href="#tg4"/><text class="t" x="16" y="28.5">Dislikes that there<tspan x="16" dy="18.8">aren’t reminders in</tspan><tspan x="16" dy="18.8">Notions</tspan></text><text class="s" x="16" y="90.6">Wishes it was “more in my<tspan x="16" dy="13.5">face”</tspan></text></g>
<g id="pain-3" class="p4" transform="translate(2332 1670)"><use href="#body" class="b"/><use href="#fold" class="f"/><use href="#tg4"/><text class="t" x="16" y="28.5">Dislikes Apple<tspan x="16" dy="18.8">Calendar for how</tspan><tspan x="16" dy="18.8">minimalist it is</tspan></text></g>
<g id="pain-4" class="p1" transform="translate(1924 1874)"><use href="#body" class="b"/><use href="#fold" class="f"/><use href="#tg1"/><text class="t" x="16" y="28.5">Frustrations</text><text class="s" x="16" y="53">Color coordination limitations,<tspan x="16" dy="13.5">subscription fees, nitpicky</tspan><tspan x="16" dy="13.5">customization issues</tspan></text></g>
<g id="pain-5" class="p3" transform="translate(2128 1874)"><use href="#body" class="b"/><use href="#fold" class="f"/><use href="#tg3"/><text class="t" x="16" y="28.5">Tried Notion →<tspan x="16" dy="18.8">found it too</tspan><tspan x="16" dy="18.8">cluttered, stopped</tspan><tspan x="16" dy="18.8">using it</tspan></text></g>
<g id="pain-6" class="p3" transform="translate(2332 1874)"><use href="#body" class="b"/><use href="#fold" class="f"/><use href="#tg3"/><text class="t" x="16" y="28.5">Prefers compact,<tspan x="16" dy="18.8">non-overwhelming</tspan><tspan x="16" dy="18.8">tracking systems</tspan></text></g>

<!-- Column 5 -->
<g id="nm-1" class="p1" transform="translate(2566 126)"><use href="#body" class="b"/><use href="#fold" class="f"/><use href="#tg1"/><text class="t" x="16" y="28.5">Wants connections<tspan x="16" dy="18.8">in tech space to</tspan><tspan x="16" dy="18.8">understand</tspan><tspan x="16" dy="18.8">workflows, team</tspan><tspan x="16" dy="18.8">dynamics</tspan></text></g>
<g id="nm-2" class="p1" transform="translate(2770 126)"><use href="#body" class="b"/><use href="#fold" class="f"/><use href="#tg1"/><text class="t" x="16" y="28.5">Interested in behind-<tspan x="16" dy="18.8">the-scenes insight</tspan><tspan x="16" dy="18.8">into how companies</tspan><tspan x="16" dy="18.8">function</tspan></text></g>
<g id="nm-3" class="p1" transform="translate(2974 126)"><use href="#body" class="b"/><use href="#fold" class="f"/><use href="#tg1"/><text class="t" x="16" y="28.5">Sees value in<tspan x="16" dy="18.8">knowing people for</tspan><tspan x="16" dy="18.8">comfort + long-term</tspan><tspan x="16" dy="18.8">security</tspan></text></g>
<g id="nm-4" class="p1" transform="translate(2566 330)"><use href="#body" class="b"/><use href="#fold" class="f"/><use href="#tg1"/><text class="t" x="16" y="28.5">Uses grad school as<tspan x="16" dy="18.8">structured path to</tspan><tspan x="16" dy="18.8">build industry skills.</tspan></text></g>
<g id="cna-1" class="p3" transform="translate(2566 592)"><use href="#body" class="b"/><use href="#fold" class="f"/><use href="#tg3"/><text class="t" x="16" y="28.5">Job applications,<tspan x="16" dy="18.8">coffee chats,</tspan><tspan x="16" dy="18.8">networking</tspan></text><text class="s" x="16" y="90.6">(Activities)</text></g>
<g id="cna-2" class="p4" transform="translate(2770 592)"><use href="#body" class="b"/><use href="#fold" class="f"/><use href="#tg4"/><text class="t" x="16" y="28.5">Been networking at<tspan x="16" dy="18.8">school and trying to</tspan><tspan x="16" dy="18.8">find different</tspan><tspan x="16" dy="18.8">resources</tspan></text></g>
<g id="cna-3" class="p4" transform="translate(2974 592)"><use href="#body" class="b"/><use href="#fold" class="f"/><use href="#tg4"/><text class="t" x="16" y="28.5">Attending career<tspan x="16" dy="18.8">fairs</tspan></text></g>
<g id="cna-4" class="p4" transform="translate(2566 796)"><use href="#body" class="b"/><use href="#fold" class="f"/><use href="#tg4"/><text class="t" x="16" y="28.5">Actively working on<tspan x="16" dy="18.8">portfolio and being</tspan><tspan x="16" dy="18.8">proactive with</tspan><tspan x="16" dy="18.8">assignments</tspan></text></g>
<g id="ch-1" class="p5" transform="translate(2566 1058)"><use href="#body" class="b"/><use href="#fold" class="f"/><use href="#tg5"/><text class="t" x="16" y="28.5">Youtube</text><text class="s" y="53"><tspan x="22">•</tspan><tspan x="33">Uses Youtube as a</tspan><tspan x="33" dy="13.5">resource to learn through</tspan><tspan x="33" dy="13.5">videos</tspan></text></g>

<!-- Column 6 -->
<g id="ac-1" class="p1" transform="translate(3207 126)"><use href="#body" class="b"/><use href="#fold" class="f"/><use href="#tg1"/><text class="t" x="16" y="28.5">Graduated<tspan x="16" dy="18.8">undergrad</tspan></text></g>
<g id="ac-2" class="p1" transform="translate(3411 126)"><use href="#body" class="b"/><use href="#fold" class="f"/><use href="#tg1"/><text class="t" x="16" y="28.5">Entered grad school</text></g>
<g id="ac-3" class="p4" transform="translate(3615 126)"><use href="#body" class="b"/><use href="#fold" class="f"/><use href="#tg4"/><text class="t" x="16" y="28.5">Getting into Masters<tspan x="16" dy="18.8">program</tspan></text></g>
<g id="ac-4" class="p5" transform="translate(3207 330)"><use href="#body" class="b"/><use href="#fold" class="f"/><use href="#tg5"/><text class="t" x="16" y="28.5">Currently studying<tspan x="16" dy="18.8">for certifications</tspan></text><text class="s" y="71.8"><tspan x="22">•</tspan><tspan x="33">Writes notes</tspan><tspan x="22" dy="13.5">•</tspan><tspan x="33">Getting comfortable with</tspan><tspan x="33" dy="13.5">learning new topics</tspan></text></g>
<g id="car-1" class="p1" transform="translate(3207 592)"><use href="#body" class="b"/><use href="#fold" class="f"/><use href="#tg1"/><text class="t" x="16" y="28.5">Worked as Graphic<tspan x="16" dy="18.8">Designer in Seoul</tspan></text></g>
<g id="car-2" class="p5" transform="translate(3411 592)"><use href="#body" class="b"/><use href="#fold" class="f"/><use href="#tg5"/><text class="t" x="16" y="28.5">Got job through<tspan x="16" dy="18.8">demonstration of</tspan><tspan x="16" dy="18.8">expertise</tspan></text><text class="s" y="90.6"><tspan x="22">•</tspan><tspan x="33">Studying domain</tspan><tspan x="33" dy="13.5">knowledge including</tspan><tspan x="33" dy="13.5">technical, soft, and</tspan><tspan x="33" dy="13.5">communication skills</tspan></text></g>
<g id="car-3" class="p5" transform="translate(3615 592)"><use href="#body" class="b"/><use href="#fold" class="f"/><use href="#tg5"/><text class="t" x="16" y="28.5">Getting a job and<tspan x="16" dy="18.8">accepting an offer at</tspan><tspan x="16" dy="18.8">a well-known tech</tspan><tspan x="16" dy="18.8">company</tspan></text><text class="s" y="109.4"><tspan x="22">•</tspan><tspan x="33">Didn’t really “prep” for the</tspan><tspan x="33" dy="13.5">interview but was doing a</tspan><tspan x="33" dy="13.5">lot of interviews (3 months</tspan><tspan x="33" dy="13.5">span)</tspan></text></g>
<g id="emp-1" class="p2" transform="translate(3207 854)"><use href="#body" class="b"/><use href="#fold" class="f"/><use href="#tg2"/><text class="t" x="16" y="28.5">Hired 10 people in 2<tspan x="16" dy="18.8">months at Probook</tspan><tspan x="16" dy="18.8">AI</tspan></text></g>
<g id="emp-2" class="p2" transform="translate(3411 854)"><use href="#body" class="b"/><use href="#fold" class="f"/><use href="#tg2"/><text class="t" x="16" y="28.5">Convinced engineers<tspan x="16" dy="18.8">to leave $450K</tspan><tspan x="16" dy="18.8">FAANG jobs for</tspan><tspan x="16" dy="18.8">$200K roles with</tspan><tspan x="16" dy="18.8">extreme hours</tspan></text></g>
<g id="emp-3" class="p3" transform="translate(3615 854)"><use href="#body" class="b"/><use href="#fold" class="f"/><use href="#tg3"/><text class="t" x="16" y="28.5">Watched 1,200+<tspan x="16" dy="18.8">user recordings with</tspan><tspan x="16" dy="18.8">teammate for a</tspan><tspan x="16" dy="18.8">company project</tspan></text></g>
<g id="emp-4" class="p3" transform="translate(3207 1058)"><use href="#body" class="b"/><use href="#fold" class="f"/><use href="#tg3"/><text class="t" x="16" y="28.5">Learned value of<tspan x="16" dy="18.8">planning, division of</tspan><tspan x="16" dy="18.8">tasks, and pacing</tspan></text></g>

<!-- Column 7 -->
<g id="pro-1" class="p2" transform="translate(3848 126)"><use href="#body" class="b"/><use href="#fold" class="f"/><use href="#tg2"/><text class="t" x="16" y="28.5">Measures progress<tspan x="16" dy="18.8">through:</tspan></text><text class="s" y="71.8"><tspan x="22">•</tspan><tspan x="33">Direct contributions to</tspan><tspan x="33" dy="13.5">company revenue</tspan><tspan x="22" dy="13.5">•</tspan><tspan x="33">Employee performance</tspan><tspan x="33" dy="13.5">reviews</tspan></text></g>
<g id="pro-2" class="p2" transform="translate(4052 126)"><use href="#body" class="b"/><use href="#fold" class="f"/><use href="#tg2"/><text class="t" x="16" y="28.5">Breaks down<tspan x="16" dy="18.8">initiatives into</tspan><tspan x="16" dy="18.8">actionable daily</tspan><tspan x="16" dy="18.8">tasks</tspan></text></g>
<g id="pro-3" class="p2" transform="translate(4256 126)"><use href="#body" class="b"/><use href="#fold" class="f"/><use href="#tg2"/><text class="t" x="16" y="28.5">Works with a clear<tspan x="16" dy="18.8">structure of goals</tspan><tspan x="16" dy="18.8">and sub-goals</tspan></text></g>
<g id="pro-4" class="p3" transform="translate(3848 330)"><use href="#body" class="b"/><use href="#fold" class="f"/><use href="#tg3"/><text class="t" x="16" y="28.5">Daily rituals: deep<tspan x="16" dy="18.8">work, meditation,</tspan><tspan x="16" dy="18.8">exercise (non-</tspan><tspan x="16" dy="18.8">negotiables)</tspan></text></g>
<g id="pro-5" class="p3" transform="translate(4052 330)"><use href="#body" class="b"/><use href="#fold" class="f"/><use href="#tg3"/><text class="t" x="16" y="28.5">Finds planning at<tspan x="16" dy="18.8">night better than in</tspan><tspan x="16" dy="18.8">the morning</tspan></text></g>
<g id="pro-6" class="p3" transform="translate(4256 330)"><use href="#body" class="b"/><use href="#fold" class="f"/><use href="#tg3"/><text class="t" x="16" y="28.5">Weekly productivity<tspan x="16" dy="18.8">reflection (how many</tspan><tspan x="16" dy="18.8">tasks completed)</tspan></text></g>
<g id="wm-1" class="p1" transform="translate(3848 592)"><use href="#body" class="b"/><use href="#fold" class="f"/><use href="#tg1"/><text class="t" x="16" y="28.5">Works step by step<tspan x="16" dy="18.8">toward graduation</tspan><tspan x="16" dy="18.8">and long-term goals</tspan></text><text class="s" x="16" y="90.6">For assignments and<tspan x="16" dy="13.5">deadlines</tspan></text></g>
<g id="wm-2" class="p1" transform="translate(4052 592)"><use href="#body" class="b"/><use href="#fold" class="f"/><use href="#tg1"/><text class="t" x="16" y="28.5">Keeps pushing<tspan x="16" dy="18.8">creative material in</tspan><tspan x="16" dy="18.8">fast-paced</tspan><tspan x="16" dy="18.8">deadlines</tspan></text><text class="s" x="16" y="109.4">(gets it done out of necessity)</text></g>
<g id="wm-3" class="p4" transform="translate(4256 592)"><use href="#body" class="b"/><use href="#fold" class="f"/><use href="#tg4"/><text class="t" x="16" y="28.5">Mentality of “always<tspan x="16" dy="18.8">moving forward</tspan><tspan x="16" dy="18.8">everyday”</tspan></text></g>
<g id="wm-4" class="p5" transform="translate(3848 796)"><use href="#body" class="b"/><use href="#fold" class="f"/><use href="#tg5"/><text class="t" x="16" y="28.5">Mentality: “Always<tspan x="16" dy="18.8">keep learning”</tspan></text></g>
<g id="wm-5" class="p5" transform="translate(4052 796)"><use href="#body" class="b"/><use href="#fold" class="f"/><use href="#tg5"/><text class="t" x="16" y="28.5">Working diligently at<tspan x="16" dy="18.8">company</tspan></text><text class="s" y="71.8"><tspan x="22">•</tspan><tspan x="33">Doing more outside of</tspan><tspan x="33" dy="13.5">current work</tspan><tspan x="33" dy="13.5">responsibilities</tspan><tspan x="22" dy="13.5">•</tspan><tspan x="33">Desire to learn</tspan></text></g>
<g id="chl-1" class="p1" transform="translate(3848 1058)"><use href="#body" class="b"/><use href="#fold" class="f"/><use href="#tg1"/><text class="t" x="16" y="28.5">Recognizes need to<tspan x="16" dy="18.8">be more intentional</tspan><tspan x="16" dy="18.8">with progress check-</tspan><tspan x="16" dy="18.8">ins.</tspan></text></g>
</g>
</svg>
